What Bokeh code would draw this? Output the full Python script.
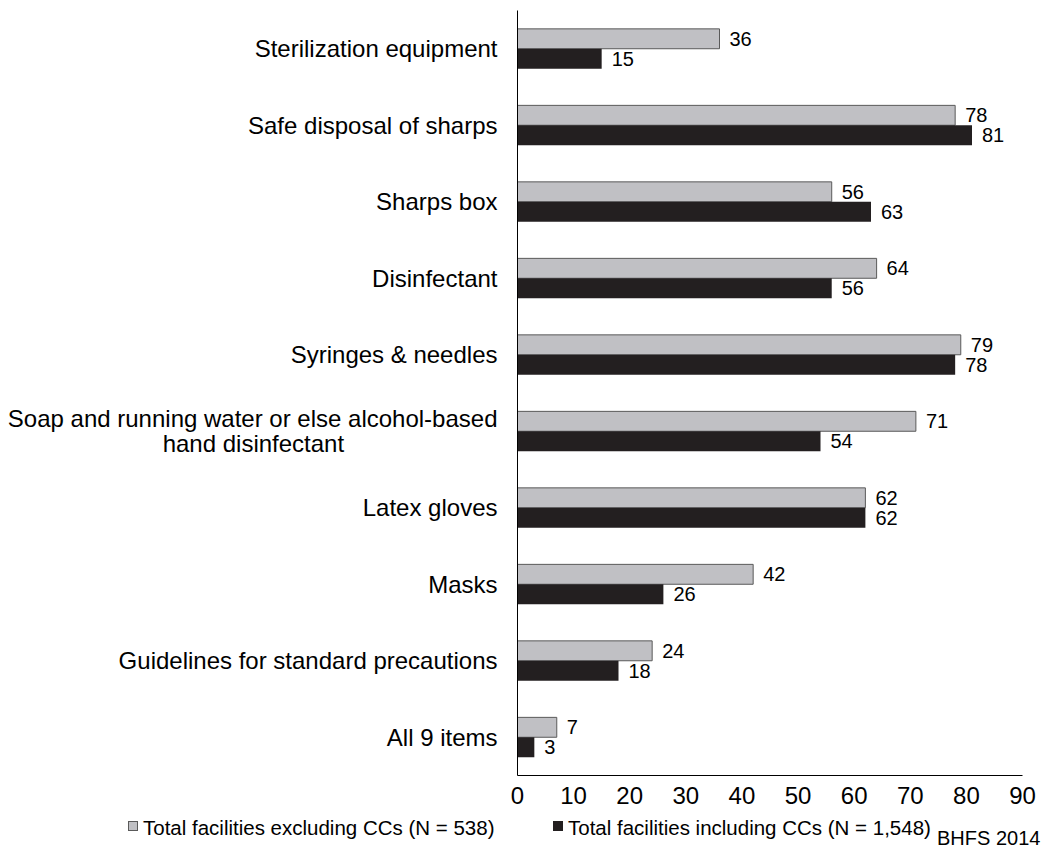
from bokeh.plotting import figure
from bokeh.layouts import column
from bokeh.models import Range1d, ColumnDataSource, FixedTicker, Div
from bokeh.transform import dodge
from bokeh.embed import file_html
from bokeh.resources import INLINE
from bokeh.core.properties import value

NB = "\u00a0"
categories = [
    "Sterilization equipment",
    "Safe disposal of sharps",
    "Sharps box",
    "Disinfectant",
    "Syringes & needles",
    "Soap and running water or else alcohol-based\nhand disinfectant" + NB * 23,
    "Latex gloves",
    "Masks",
    "Guidelines for standard precautions",
    "All 9 items",
]
excl_values = [36, 78, 56, 64, 79, 71, 62, 42, 24, 7]
incl_values = [15, 81, 63, 56, 78, 54, 62, 26, 18, 3]
x_ticks = [0, 10, 20, 30, 40, 50, 60, 70, 80, 90]
series_names = ["Total facilities excluding CCs (N = 538)",
                "Total facilities including CCs (N = 1,548)"]
source_note = "BHFS 2014"

FONT = "Liberation Sans"
GREY = "#c0c0c4"
GREY_LINE = "#5a5a5a"
DARK = "#231f20"

src = ColumnDataSource(dict(
    cat=categories,
    excl=excl_values,
    incl=incl_values,
    excl_txt=[str(v) for v in excl_values],
    incl_txt=[str(v) for v in incl_values],
))

p = figure(
    width=1046, height=812,
    y_range=list(reversed(categories)),
    x_range=Range1d(0, 90),
    output_backend="svg", toolbar_location=None,
    min_border_left=517, min_border_right=24,
    min_border_top=10, min_border_bottom=37,
)
p.outline_line_color = None
p.xgrid.visible = False
p.ygrid.visible = False
p.background_fill_color = "white"
p.border_fill_color = "white"

p.hbar(y=dodge("cat", 0.13, range=p.y_range), right="excl", left=0,
       height=0.26, source=src, fill_color=GREY,
       line_color=GREY_LINE, line_width=1)
p.hbar(y=dodge("cat", -0.13, range=p.y_range), right="incl", left=0,
       height=0.26, source=src, fill_color=DARK, line_color=None)

p.text(x="excl", y=dodge("cat", 0.13, range=p.y_range), text="excl_txt",
       source=src, x_offset=10, text_baseline="middle", text_align="left",
       text_font=value(FONT), text_font_size="20px", text_color="black")
p.text(x="incl", y=dodge("cat", -0.13, range=p.y_range), text="incl_txt",
       source=src, x_offset=10, text_baseline="middle", text_align="left",
       text_font=value(FONT), text_font_size="20px", text_color="black")

p.xaxis.ticker = FixedTicker(ticks=x_ticks)
for ax in (p.xaxis[0], p.yaxis[0]):
    ax.major_tick_line_color = None
    ax.minor_tick_line_color = None
    ax.major_tick_out = 0
    ax.major_tick_in = 0
    ax.axis_line_color = "black"
    ax.axis_line_width = 1
    ax.major_label_text_font = FONT
    ax.major_label_text_font_size = "24px"
    ax.major_label_text_color = "black"
p.xaxis.major_label_standoff = 11
p.yaxis.major_label_standoff = 20
p.yaxis.major_label_text_line_height = 0.92

# footer: legend and source note
def swatch(left, size, fill, border):
    return (f'<span style="position:absolute;left:{left}px;top:9px;width:{size}px;'
            f'height:{size}px;background:{fill};border:1px solid {border};"></span>')

def text_span(left, top, size, lh, txt):
    return (f'<span style="position:absolute;left:{left}px;top:{top}px;'
            f'font-size:{size}px;line-height:{lh}px;white-space:nowrap;">{txt}</span>')

footer_html = (
    f'<div style="position:relative;width:1046px;height:37px;overflow:hidden;'
    f'font-family:\'{FONT}\';color:black;">'
    + swatch(128, 10, GREY, GREY_LINE)
    + text_span(143, 4, 20.5, 23, series_names[0])
    + swatch(553, 10, DARK, DARK)
    + text_span(568, 4, 20.5, 23, series_names[1])
    + text_span(937, 17, 20, 18, source_note)
    + '</div>'
)
foot = Div(text=footer_html, width=1046, height=37, margin=(0, 0, 0, 0))

layout = column(p, foot, spacing=0)
open("out.html", "w").write(file_html(layout, INLINE))
